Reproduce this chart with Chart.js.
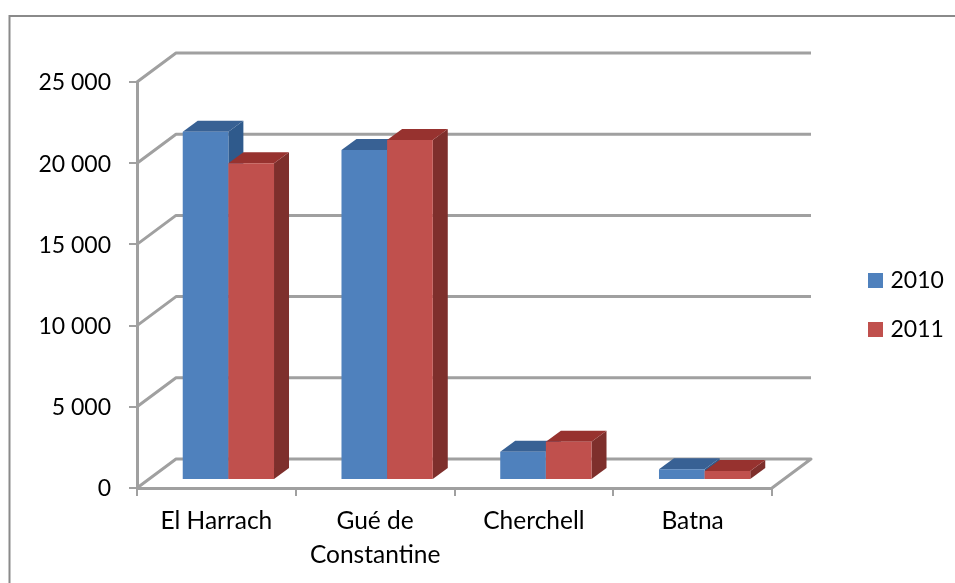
<!DOCTYPE html>
<html>
<head>
<meta charset="utf-8">
<title>Bar chart</title>
<script src="https://cdn.jsdelivr.net/npm/chart.js@4"></script>
<style>
    html, body { margin: 0; padding: 0; background: #fff; overflow: hidden; }
    canvas { display: block; }
</style>
</head>
<body>
<canvas id="myCanvas" width="955" height="583"></canvas>
<script>
const CHART = document.getElementById('myCanvas').getContext('2d');

const categories = ['El Harrach', ['Gué de', 'Constantine'], 'Cherchell', 'Batna'];
const values2010 = [21450, 20320, 1740, 660];
const values2011 = [19500, 20940, 2360, 550];
const yTickLabels = ['0', '5 000', '10 000', '15 000', '20 000', '25 000'];

const LABEL_FONT = { family: 'Lato', size: 23, lineHeight: 1.43 };
const CATEGORY_FONT = { family: 'Lato', size: 24.5, lineHeight: 1.35 };
const AXIS_COLOR = '#a0a0a0';

// depth of the box behind the front axes
const WALL = { dx: 39, dy: 29 };
// bars stand in the middle of the floor, with their own depth
const BAR_SHIFT = { x: 12, y: -8 };
const BAR_DEPTH = { dx: 15, dy: 11 };

function polygon(ctx, points, color) {
    ctx.fillStyle = color;
    ctx.beginPath();
    points.forEach(function (p, i) {
        if (i === 0) ctx.moveTo(p[0], p[1]);
        else ctx.lineTo(p[0], p[1]);
    });
    ctx.closePath();
    ctx.fill();
}

const box3d = {
    id: 'box3d',
    beforeDraw: function (chart) {
        // outer frame, its right and bottom sides fall off the page
        const ctx = chart.ctx;
        ctx.save();
        ctx.strokeStyle = '#8a8a8a';
        ctx.lineWidth = 2;
        ctx.beginPath();
        ctx.moveTo(9.5, 590);
        ctx.lineTo(9.5, 16);
        ctx.lineTo(960, 16);
        ctx.stroke();
        ctx.restore();
    },
    afterLayout: function (chart) {
        const legend = chart.legend;
        legend.left = 846;
        legend.right = 955;
        legend.top = 243;
        legend.bottom = 400;
    },
    beforeDatasetsDraw: function (chart) {
        const ctx = chart.ctx;
        const x = chart.scales.x;
        const y = chart.scales.y;

        // back wall lines and the side wall diagonals
        ctx.save();
        ctx.strokeStyle = AXIS_COLOR;
        ctx.lineWidth = 3;
        ctx.lineJoin = 'round';
        y.ticks.forEach(function (tick) {
            const py = y.getPixelForValue(tick.value);
            ctx.beginPath();
            ctx.moveTo(x.left, py);
            ctx.lineTo(x.left + WALL.dx, py - WALL.dy);
            ctx.lineTo(x.right + WALL.dx, py - WALL.dy);
            if (tick.value === 0) ctx.lineTo(x.right, py);
            ctx.stroke();
        });
        ctx.restore();

        // blue before red, so each red front covers the blue side next to it
        chart.data.datasets.forEach(function (ds, i) {
            chart.getDatasetMeta(i).data.forEach(function (bar) {
                const left = bar.x - bar.width / 2;
                const right = bar.x + bar.width / 2;
                ctx.save();
                ctx.translate(BAR_SHIFT.x, BAR_SHIFT.y);
                polygon(ctx, [
                    [right, bar.y],
                    [right + BAR_DEPTH.dx, bar.y - BAR_DEPTH.dy],
                    [right + BAR_DEPTH.dx, bar.base - BAR_DEPTH.dy],
                    [right, bar.base]
                ], ds.sideColor);
                polygon(ctx, [
                    [left, bar.y],
                    [left + BAR_DEPTH.dx, bar.y - BAR_DEPTH.dy],
                    [right + BAR_DEPTH.dx, bar.y - BAR_DEPTH.dy],
                    [right, bar.y]
                ], ds.topColor);
                bar.draw(ctx);
                ctx.restore();
            });
        });
        return false;
    }
};

new Chart(CHART, {
    type: 'bar',
    data: {
        labels: categories,
        datasets: [{
            label: '2010',
            data: values2010,
            backgroundColor: '#4f81bd',
            topColor: '#386194',
            sideColor: '#2f5a8c'
        }, {
            label: '2011',
            data: values2011,
            backgroundColor: '#c0504d',
            topColor: '#97322f',
            sideColor: '#7e2f2c'
        }]
    },
    plugins: [box3d],
    options: {
        responsive: false,
        animation: false,
        categoryPercentage: 0.575,
        barPercentage: 1,
        layout: { padding: { left: 0, top: 82, right: 183, bottom: 0 } },
        plugins: {
            title: { display: false },
            tooltip: { enabled: false },
            legend: {
                position: 'chartArea',
                align: 'start',
                labels: {
                    // small box plus a thick same-colour stroke keeps the text close to the swatch
                    boxWidth: 7,
                    boxHeight: 7,
                    padding: 26,
                    color: '#000',
                    font: LABEL_FONT,
                    generateLabels: function (chart) {
                        return Chart.defaults.plugins.legend.labels.generateLabels(chart).map(function (item) {
                            item.lineWidth = 8;
                            item.strokeStyle = item.fillStyle;
                            return item;
                        });
                    }
                }
            }
        },
        scales: {
            x: {
                afterFit: function (scale) { scale.height = 95; },
                border: { color: AXIS_COLOR, width: 3 },
                grid: { drawOnChartArea: false, drawTicks: true, tickLength: 8, color: AXIS_COLOR, lineWidth: 2 },
                ticks: { color: '#000', font: CATEGORY_FONT, padding: 9, maxRotation: 0, autoSkip: false }
            },
            y: {
                min: 0,
                max: 25000,
                afterFit: function (scale) { scale.width = 137; },
                border: { color: AXIS_COLOR, width: 3 },
                grid: { drawOnChartArea: false, drawTicks: true, tickLength: 8, color: AXIS_COLOR, lineWidth: 2 },
                ticks: {
                    stepSize: 5000,
                    color: '#000',
                    font: LABEL_FONT,
                    padding: 18,
                    labelOffset: 1,
                    callback: function (value, index) { return yTickLabels[index]; }
                }
            }
        }
    }
});
</script>
</body>
</html>
